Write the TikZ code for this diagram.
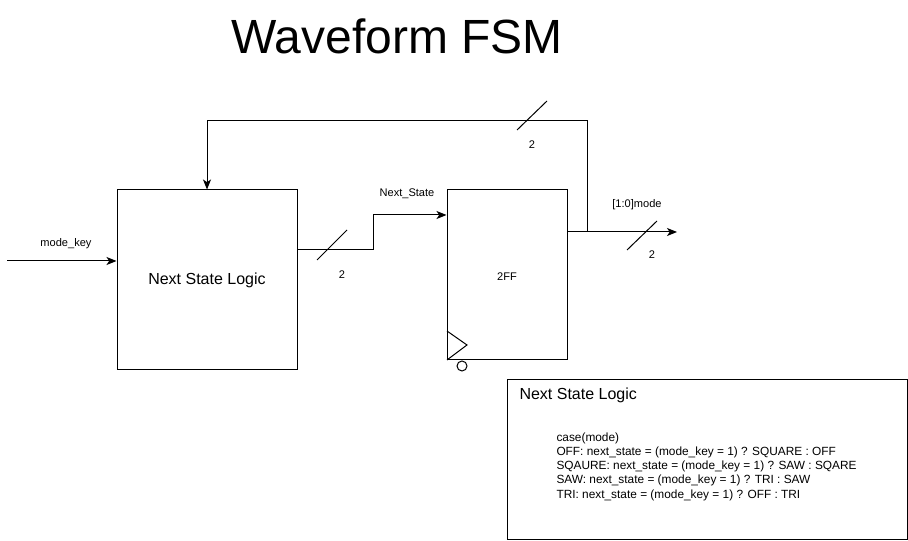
\documentclass[tikz,border=0pt]{standalone}
\usepackage{fontspec}
\setmainfont{Liberation Sans}
\usetikzlibrary{arrows.meta}
\begin{document}
\begin{tikzpicture}[x=0.75pt,y=-0.75pt,
  line width=0.75pt,
  blk/.style={draw,minimum width=180*0.75pt,minimum height=180*0.75pt,inner sep=0pt,font=\fontsize{12}{14}\selectfont},
  lbl/.style={font=\fontsize{8.3}{10}\selectfont,inner sep=0pt},
  arr/.style={-{Stealth[length=7.5pt,width=6pt,inset=2pt]}},
  bus/.style={line width=0.75pt}]
\useasboundingbox (0,0) rectangle (908,541);
% title
\node[font=\fontsize{36}{40}\selectfont] (title) at (397,36) {Waveform FSM};
% blocks
\node[blk] (nsl) at (207,280) {Next State Logic};
\node[draw,minimum width=120*0.75pt,minimum height=170*0.75pt,inner sep=0pt] (ff) at (507,275) {};
\node[lbl] (fflbl) at (507,277) {2FF};
% clock
\coordinate (c1) at (447,331);
\coordinate (c2) at (467,345);
\coordinate (c3) at (447,360);
\draw (c1) -- (c2) -- (c3);
\node[draw,circle,minimum size=10*0.75pt,inner sep=0pt] (clk) at (462,366) {};
% input
\coordinate (inp) at (7,261);
\draw[arr] (inp) -- (nsl.west |- inp);
\node[lbl] (mk) at (66,244) {mode\_key};
% next state
\coordinate (ns1) at (373,250);
\coordinate (ns2) at (373,215);
\draw[arr] (nsl.east |- ns1) -- (ns1) -- (ns2) -- (ff.west |- ns2);
\coordinate (s1a) at (317,260); \coordinate (s1b) at (347,230);
\draw (s1a) -- (s1b);
\node[lbl] (n1) at (342,275) {2};
\node[lbl] (nslbl) at (407,194) {Next\_State};
% output
\coordinate (oj) at (587,232);
\coordinate (oe) at (677,232);
\draw (ff.east |- oj) -- (oj);
\draw[arr] (oj) -- (oe);
\coordinate (s2a) at (627,250); \coordinate (s2b) at (657,221);
\draw (s2a) -- (s2b);
\node[lbl] (n2) at (652,255) {2};
\node[lbl] (mlbl) at (637,205) {[1:0]mode};
% feedback
\coordinate (f1) at (587,121);
\coordinate (f2) at (207,121);
\draw[arr] (oj) -- (f1) -- (f2) -- (nsl.north);
\coordinate (s3a) at (517,130); \coordinate (s3b) at (547,101);
\draw (s3a) -- (s3b);
\node[lbl] (n3) at (532,145) {2};
% description box
\node[draw,minimum width=400*0.75pt,minimum height=160*0.75pt,inner sep=0pt] (desc) at (707,460) {};
\node[anchor=west,inner sep=0pt,font=\fontsize{12}{14}\selectfont] (dh) at (519,395) {Next State Logic};
\node[anchor=north west,inner sep=0pt,align=left,font=\fontsize{8.9}{10.7}\selectfont] (code) at (556,432) {case(mode)\\
OFF: next\_state = (mode\_key = 1) ? SQUARE : OFF\\
SQAURE: next\_state = (mode\_key = 1) ? SAW : SQARE\\
SAW: next\_state = (mode\_key = 1) ? TRI : SAW\\
TRI: next\_state = (mode\_key = 1) ? OFF : TRI};
\end{tikzpicture}
\end{document}
